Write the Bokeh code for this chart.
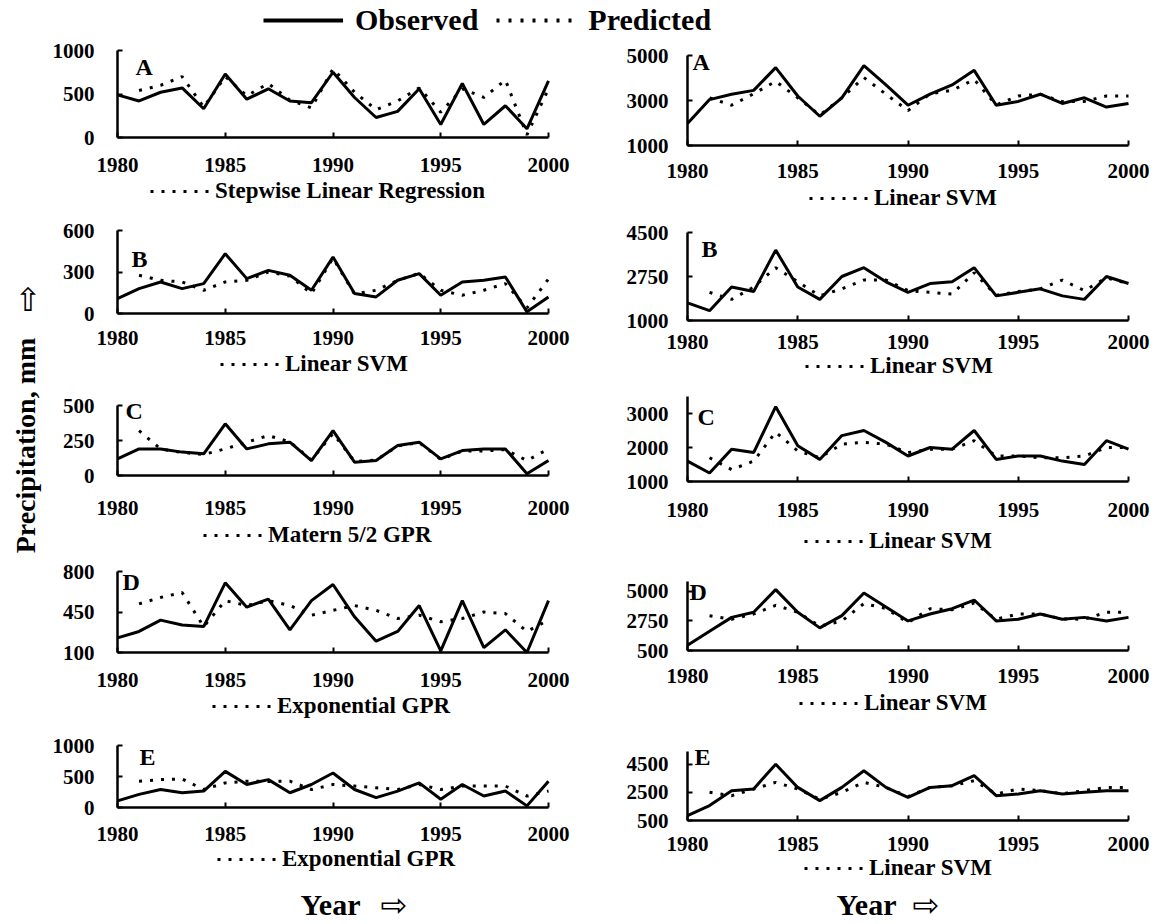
import math
import numpy as np
from bokeh.plotting import figure
from bokeh.models import Range1d, FixedTicker, Legend, LegendItem, Label
from bokeh.layouts import row, column
from bokeh.embed import file_html
from bokeh.resources import INLINE

nan = float("nan")

# ---------------- data ----------------
years = list(range(1980, 2001))
year_ticks = [1980, 1985, 1990, 1995, 2000]

obs_left_A = [490, 420, 520, 570, 330, 730, 440, 560, 420, 400, 750, 460, 230, 300, 560, 150, 620, 150, 365, 100, 650]
pred_left_A = [nan, 540, 600, 700, 350, 700, 480, 620, 430, 340, 790, 520, 320, 420, 570, 290, 560, 460, 660, 30, 560]
obs_left_B = [108, 180, 228, 180, 216, 432, 252, 312, 276, 168, 408, 144, 120, 240, 288, 132, 228, 240, 264, 12, 120]
pred_left_B = [nan, 276, 240, 228, 168, 228, 240, 300, 270, 144, 400, 140, 168, 240, 290, 168, 132, 168, 216, 40, 250]
obs_left_C = [119, 190, 190, 167, 155, 369, 190, 226, 238, 107, 321, 95, 107, 214, 238, 119, 178, 190, 190, 12, 107]
pred_left_C = [nan, 320, 190, 165, 150, 190, 238, 285, 240, 110, 300, 100, 110, 210, 235, 115, 175, 175, 185, 107, 190]
obs_left_D = [226, 282, 380, 338, 324, 702, 492, 562, 296, 548, 688, 408, 198, 282, 506, 114, 548, 142, 296, 100, 548]
pred_left_D = [nan, 520, 576, 618, 324, 548, 506, 548, 506, 422, 464, 506, 464, 394, 422, 366, 394, 450, 436, 282, 380]
obs_left_E = [106, 212, 290, 238, 265, 583, 371, 450, 238, 371, 556, 290, 159, 265, 397, 132, 371, 185, 265, 26, 424]
pred_left_E = [nan, 424, 450, 460, 290, 397, 424, 420, 424, 290, 371, 345, 318, 290, 371, 290, 345, 345, 345, 185, 265]

obs_right_A = [1980, 3040, 3280, 3450, 4460, 3200, 2300, 3120, 4550, 3690, 2790, 3280, 3690, 4340, 2790, 2960, 3280, 2870, 3120, 2710, 2870]
pred_right_A = [nan, 3120, 2790, 3300, 3850, 3120, 2350, 3120, 4020, 3280, 2550, 3300, 3450, 3930, 2800, 3200, 3280, 2950, 2960, 3200, 3200]
obs_right_B = [1700, 1390, 2330, 2150, 3800, 2330, 1840, 2750, 3100, 2540, 2120, 2470, 2540, 3100, 1980, 2120, 2260, 1980, 1840, 2750, 2470]
pred_right_B = [nan, 2120, 1840, 2330, 3100, 2540, 1980, 2260, 2610, 2610, 2190, 2120, 2050, 2900, 2000, 2150, 2260, 2610, 2190, 2700, 2470]
obs_right_C = [1600, 1250, 1950, 1850, 3200, 2050, 1650, 2350, 2500, 2150, 1750, 2000, 1950, 2500, 1650, 1750, 1750, 1600, 1500, 2200, 1950]
pred_right_C = [nan, 1700, 1350, 1600, 2450, 1900, 1700, 2100, 2150, 2100, 1850, 1950, 1950, 2200, 1750, 1750, 1700, 1700, 1750, 2000, 2000]
obs_right_D = [900, 1960, 3020, 3410, 5130, 3410, 2220, 3150, 4870, 3810, 2750, 3280, 3680, 4340, 2750, 2880, 3280, 2880, 3020, 2750, 3020]
pred_right_D = [nan, 3150, 2880, 3280, 3940, 3410, 2350, 2750, 4070, 3700, 2620, 3680, 3600, 4100, 2880, 3280, 3280, 2900, 2880, 3410, 3410]
obs_right_E = [850, 1560, 2620, 2740, 4500, 2850, 1910, 2850, 4030, 2850, 2150, 2850, 2970, 3680, 2260, 2380, 2620, 2380, 2500, 2620, 2620]
pred_right_E = [nan, 2500, 2260, 2740, 3210, 2740, 2000, 2500, 3210, 2850, 2200, 2850, 2970, 3330, 2380, 2740, 2620, 2400, 2620, 2850, 2850]

panel_letters = ["A", "B", "C", "D", "E"]
left_models = ["Stepwise Linear Regression", "Linear SVM", "Matern 5/2 GPR", "Exponential GPR", "Exponential GPR"]
right_models = ["Linear SVM", "Linear SVM", "Linear SVM", "Linear SVM", "Linear SVM"]
left_y_ticks = [[0, 500, 1000], [0, 300, 600], [0, 250, 500], [100, 450, 800], [0, 500, 1000]]
right_y_ticks = [[1000, 3000, 5000], [1000, 2750, 4500], [1000, 2000, 3000], [500, 2750, 5000], [500, 2500, 4500]]
right_y_top = [5000, 4500, 3500, 5750, 5400]

left_obs = [obs_left_A, obs_left_B, obs_left_C, obs_left_D, obs_left_E]
left_pred = [pred_left_A, pred_left_B, pred_left_C, pred_left_D, pred_left_E]
right_obs = [obs_right_A, obs_right_B, obs_right_C, obs_right_D, obs_right_E]
right_pred = [pred_right_A, pred_right_B, pred_right_C, pred_right_D, pred_right_E]

# ---------------- layout (screen px) ----------------
HEADER_H = 38
COL_TOP = HEADER_H
COL_BOTTOM = 884
PAGE_BOTTOM = 922
LEFT_FIG_X = 50
RIGHT_FIG_X = 600
PAGE_RIGHT = 1150
LEFT_FRAME_X = (117, 548)
RIGHT_FRAME_X = (687, 1128)

left_frame_y = [(50, 137), (230, 313), (405, 475), (571, 652), (745, 807)]
right_frame_y = [(55, 145), (232, 320), (396, 481), (581, 650), (751, 820)]
left_xlab_y = [164, 337, 507, 679, 833]
right_xlab_y = [170, 341, 509, 675, 843]
left_cap_y = [191, 364, 535, 706, 859]
right_cap_y = [198, 366, 541, 703, 868]
left_cap_x = [150, 220, 203, 212, 217]
right_cap_x = [809, 805, 804, 799, 804]
left_letter_pos = [(135, 66), (131, 258), (125, 410), (122, 581), (139, 756)]
right_letter_pos = [(692, 61), (701, 248), (697, 416), (689, 591), (694, 756)]
left_top_pad = [18, 18, 18, 18, 18]
right_top_pad = [18, 18, 18, 18, 22]
year_x = [300, 836]
arrow_x = [380, 912]
YEAR_MID = 904
ARROW_MID = 904

SERIF = "Liberation Serif"
TICK_PX = 21
CAP_PX = 23
LETTER_PX = 24
XLAB_CENTER = 7     # tick label centre below its top edge
CAP_H = 26          # height of a caption legend row


def make_panel(fig_x, fig_w, frame_x, fig_top, fig_bottom, frame_y, y_start, y_end, y_ticks,
               obs, pred, letter, letter_pos, model, cap_x, cap_y, xlab_y, ylab_standoff):
    fl, fr = frame_x
    ft, fb = frame_y
    fig_h = fig_bottom - fig_top
    sx = 20.0 / (fr - fl)
    sy = (y_end - y_start) / (fb - ft)
    x_rng = Range1d(1980 - (fl - fig_x) * sx, 2000 + (fig_x + fig_w - fr) * sx)
    y_rng = Range1d(y_start - (fig_bottom - fb) * sy, y_end + (ft - fig_top) * sy)
    p = figure(width=fig_w, height=fig_h, x_range=x_rng, y_range=y_rng,
               output_backend="svg", toolbar_location=None, title=None, min_border=0)
    p.outline_line_color = None
    p.grid.visible = False
    p.background_fill_color = "white"
    p.border_fill_color = "white"

    pred_r = p.line(years, np.asarray(pred, dtype=float), line_color="black",
                    line_width=3, line_dash="3 8")
    p.line(years, np.asarray(obs, dtype=float), line_color="black", line_width=3)

    xa = p.xaxis[0]
    ya = p.yaxis[0]
    xa.ticker = FixedTicker(ticks=year_ticks)
    ya.ticker = FixedTicker(ticks=y_ticks)
    xa.fixed_location = y_start
    xa.bounds = (1980, 2000)
    ya.fixed_location = 1980
    ya.bounds = (y_start, y_end)
    for ax in (xa, ya):
        ax.axis_line_width = 2.5
        ax.axis_line_color = "black"
        ax.major_tick_in = 5
        ax.major_tick_out = 0
        ax.major_tick_line_width = 2
        ax.major_tick_line_color = "black"
        ax.minor_tick_line_color = None
        ax.major_label_text_font = SERIF
        ax.major_label_text_font_style = "bold"
        ax.major_label_text_font_size = f"{TICK_PX}px"
        ax.major_label_text_color = "black"
    xa.major_label_standoff = xlab_y - fb - XLAB_CENTER
    ya.major_label_standoff = ylab_standoff

    leg = Legend(items=[LegendItem(label=model, renderers=[pred_r])],
                 location=(cap_x - fig_x, fig_bottom - cap_y - CAP_H / 2),
                 margin=0, padding=0, spacing=0,
                 glyph_width=60, glyph_height=20, label_height=20, label_standoff=5,
                 border_line_color=None, background_fill_alpha=0,
                 label_text_font=SERIF, label_text_font_style="bold",
                 label_text_font_size=f"{CAP_PX}px", label_text_color="black")
    p.add_layout(leg)

    lx, ly = letter_pos
    p.add_layout(Label(x=1980, y=y_end, x_offset=lx - fl, y_offset=-(ly - ft),
                       text=letter, text_font=SERIF, text_font_style="bold",
                       text_font_size=f"{LETTER_PX}px", text_baseline="middle",
                       text_align="left", text_color="black"))
    return p


def build_column(fig_x, fig_w, frame_x, frames, pads, y_ranges, ticks, obs_list, pred_list,
                 letter_pos, models, cap_x, cap_y, xlab_y, ylab_standoff):
    tops = [COL_TOP] + [frames[i][0] - pads[i] for i in range(1, 5)]
    bottoms = tops[1:] + [COL_BOTTOM]
    figs = []
    for i in range(5):
        figs.append(make_panel(fig_x, fig_w, frame_x, tops[i], bottoms[i], frames[i],
                               y_ranges[i][0], y_ranges[i][1], ticks[i],
                               obs_list[i], pred_list[i], panel_letters[i], letter_pos[i],
                               models[i], cap_x[i], cap_y[i], xlab_y[i], ylab_standoff))
    return column(*figs, spacing=0)


left_ranges = [(t[0], t[-1]) for t in left_y_ticks]
right_ranges = [(right_y_ticks[i][0], right_y_top[i]) for i in range(5)]

left_col = build_column(LEFT_FIG_X, RIGHT_FIG_X - LEFT_FIG_X, LEFT_FRAME_X, left_frame_y, left_top_pad,
                        left_ranges, left_y_ticks, left_obs, left_pred, left_letter_pos,
                        left_models, left_cap_x, left_cap_y, left_xlab_y, 23)
right_col = build_column(RIGHT_FIG_X, PAGE_RIGHT - RIGHT_FIG_X, RIGHT_FRAME_X, right_frame_y, right_top_pad,
                         right_ranges, right_y_ticks, right_obs, right_pred, right_letter_pos,
                         right_models, right_cap_x, right_cap_y, right_xlab_y, 19)


def blank(width, height, x0, x1, y0, y1):
    f = figure(width=width, height=height, x_range=Range1d(x0, x1), y_range=Range1d(y0, y1),
               x_axis_type=None, y_axis_type=None, min_border=0,
               output_backend="svg", toolbar_location=None, title=None)
    f.outline_line_color = None
    return f


# header legend (sample renderers hold no drawable point)
head = blank(PAGE_RIGHT - LEFT_FIG_X, HEADER_H, LEFT_FIG_X, PAGE_RIGHT, HEADER_H, 0)
r_obs = head.line(x=[nan], y=[nan], line_color="black", line_width=4)
r_pred = head.line(x=[nan], y=[nan], line_color="black", line_width=4, line_dash="3 9")
HEAD_LEG_H = 33
head_leg = Legend(items=[LegendItem(label="Observed", renderers=[r_obs]),
                         LegendItem(label="Predicted", renderers=[r_pred])],
                  orientation="horizontal",
                  location=(263 - LEFT_FIG_X, HEADER_H - (20 - HEAD_LEG_H / 2) - HEAD_LEG_H),
                  margin=0, padding=0, spacing=18,
                  glyph_width=80, glyph_height=20, label_standoff=12,
                  border_line_color=None, background_fill_alpha=0,
                  label_text_font=SERIF, label_text_font_style="bold",
                  label_text_font_size="30px", label_text_color="black")
head.add_layout(head_leg)

# footer with the x-axis titles
foot = blank(PAGE_RIGHT - LEFT_FIG_X, PAGE_BOTTOM - COL_BOTTOM, LEFT_FIG_X, PAGE_RIGHT, PAGE_BOTTOM, COL_BOTTOM)
for yx, ax_ in zip(year_x, arrow_x):
    foot.add_layout(Label(x=yx, y=YEAR_MID, text="Year", text_font=SERIF, text_font_style="bold",
                          text_font_size="30px", text_baseline="middle", text_align="left",
                          text_color="black"))
    foot.add_layout(Label(x=ax_, y=ARROW_MID, text="\u21e8", text_font="DejaVu Sans",
                          text_font_size="32px", text_baseline="middle", text_align="left",
                          text_color="black"))

# vertical axis title
ylab = blank(LEFT_FIG_X, PAGE_BOTTOM, 0, LEFT_FIG_X, PAGE_BOTTOM, 0)
ylab.add_layout(Label(x=25, y=445, text="Precipitation, mm", angle=math.pi / 2,
                      text_font=SERIF, text_font_style="bold", text_font_size="28px",
                      text_align="center", text_baseline="middle", text_color="black"))
ylab.add_layout(Label(x=26, y=298, text="\u21e8", angle=math.pi / 2,
                      text_font="DejaVu Sans", text_font_size="32px",
                      text_align="center", text_baseline="middle", text_color="black"))

layout = row(ylab,
             column(head, row(left_col, right_col, spacing=0), foot, spacing=0),
             spacing=0)

open("out.html", "w").write(file_html(layout, INLINE))
